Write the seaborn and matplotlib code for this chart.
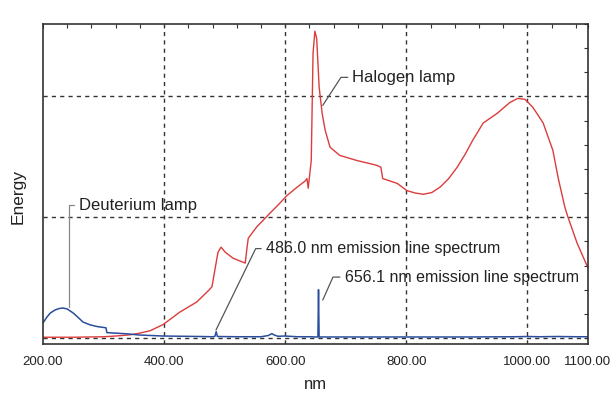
import numpy as np
import pandas as pd
import matplotlib
matplotlib.use("Agg")
import matplotlib.pyplot as plt
from matplotlib.ticker import MultipleLocator
import seaborn as sns

# Halogen lamp spectrum
wl_halogen = [200, 250, 300, 320, 344, 360, 377, 398, 426, 454, 474, 479, 489, 494,
              501, 514, 534, 537, 539, 553, 575, 590, 603, 620, 633, 636, 638, 643,
              646, 649, 652, 656, 661, 666, 674, 690, 718, 751, 758, 761, 785, 801,
              815, 828, 842, 856, 870, 884, 897, 910, 927, 950, 971, 984, 996, 1009,
              1026, 1042, 1051, 1062, 1067, 1082, 1100]
en_halogen = [0.03, 0.03, 0.05, 0.08, 0.13, 0.2, 0.3, 0.55, 1.07, 1.49, 1.98, 2.12, 3.55, 3.76,
              3.55, 3.3, 3.1, 3.76, 4.13, 4.6, 5.17, 5.55, 5.9, 6.25, 6.5, 6.6, 6.2, 7.35,
              11.8, 12.7, 12.4, 10.4, 9.3, 8.6, 7.9, 7.56, 7.35, 7.15, 7.07, 6.6, 6.4, 6.1,
              6.0, 5.95, 6.02, 6.25, 6.6, 7.07, 7.6, 8.2, 8.9, 9.3, 9.75, 9.92, 9.88, 9.55,
              8.9, 7.77, 6.6, 5.4, 5.0, 3.93, 2.9]

# Deuterium lamp spectrum
wl_deut = [200, 206, 212, 220, 227, 233, 240, 250, 258, 266, 278, 290, 304, 305.5,
           320, 339, 360, 380, 398, 430, 460, 481, 484, 486, 488, 520, 560, 572, 578,
           582, 588, 600, 620, 640, 652, 654, 655, 656, 660, 700, 800, 900, 980, 1000,
           1020, 1050, 1080, 1100]
en_deut = [0.62, 0.85, 1.03, 1.16, 1.22, 1.24, 1.2, 1.03, 0.85, 0.66, 0.54, 0.47, 0.42, 0.22,
           0.2, 0.17, 0.12, 0.1, 0.08, 0.07, 0.06, 0.05, 0.07, 0.26, 0.06, 0.05, 0.05, 0.1, 0.18,
           0.12, 0.07, 0.08, 0.05, 0.05, 0.04, 0.04, 2.0, 0.04, 0.04, 0.04, 0.04, 0.04, 0.05, 0.06,
           0.05, 0.06, 0.05, 0.05]

xtick_vals = [200, 400, 600, 800, 1000, 1100]
xtick_labels = ["200.00", "400.00", "600.00", "800.00", "1000.00", "1100.00"]

sns.set_style("white")
plt.rcParams["font.family"] = ["Liberation Sans", "DejaVu Sans"]

df_h = pd.DataFrame({"nm": wl_halogen, "Energy": en_halogen})
df_d = pd.DataFrame({"nm": wl_deut, "Energy": en_deut})

fig = plt.figure(figsize=(6.16, 3.98), dpi=100)
ax = fig.add_axes([0.0698, 0.1357, 0.8847, 0.804])

sns.lineplot(data=df_h, x="nm", y="Energy", color="#dc3c3c", lw=1.0, sort=False, ax=ax)
sns.lineplot(data=df_d, x="nm", y="Energy", color="#2a4e9c", lw=1.1, sort=False, ax=ax)

ax.set_xlim(200, 1100)
ax.set_ylim(-0.25, 13)

ax.set_xticks(xtick_vals)
ax.set_xticklabels(xtick_labels, fontsize=9.5, color="#222222")
ax.xaxis.set_minor_locator(MultipleLocator(40))
ax.yaxis.set_major_locator(MultipleLocator(5))
ax.yaxis.set_minor_locator(MultipleLocator(1))
ax.set_yticklabels([])
ax.tick_params(which="both", direction="in", length=3, width=0.8, color="#333333",
               top=True, right=True)
ax.tick_params(axis="x", pad=9)

# grid only at inner major positions
for gx in [400, 600, 800, 1000]:
    ax.axvline(gx, color="#333333", lw=1.0, ls=(0, (3, 3)), zorder=0)
for gy in [0, 5, 10]:
    ax.axhline(gy, color="#333333", lw=1.0, ls=(0, (3, 3)), zorder=0)

for s in ax.spines.values():
    s.set_color("#333333")
    s.set_linewidth(1.2)

ax.set_xlabel("nm", fontsize=12, color="#222222", labelpad=6)
ax.set_ylabel("Energy", fontsize=12.5, color="#222222")
ax.yaxis.set_label_coords(-0.031, 0.46)

leader = dict(arrowstyle="-", color="#555555", lw=0.9, shrinkA=1, shrinkB=0)
ax.annotate("Halogen lamp", xy=(662, 9.63), xytext=(711, 10.79), fontsize=12,
            ha="left", va="center", color="#222222",
            arrowprops=dict(leader, connectionstyle="angle,angleA=0,angleB=57,rad=0"))
ax.annotate("Deuterium lamp", xy=(243, 1.28), xytext=(259, 5.5), fontsize=12,
            ha="left", va="center", color="#222222",
            arrowprops=dict(leader, color="#888888", connectionstyle="angle,angleA=0,angleB=90,rad=0"))
ax.annotate("486.0 nm emission line spectrum", xy=(485.7, 0.33), xytext=(568, 3.7),
            fontsize=11.5, ha="left", va="center", color="#222222",
            arrowprops=dict(leader, connectionstyle="angle,angleA=0,angleB=64,rad=0"))
ax.annotate("656.1 nm emission line spectrum", xy=(662, 1.57), xytext=(698, 2.52),
            fontsize=11.5, ha="left", va="center", color="#222222",
            arrowprops=dict(leader, connectionstyle="angle,angleA=0,angleB=66,rad=0"))

fig.savefig("out.png", dpi=100)
